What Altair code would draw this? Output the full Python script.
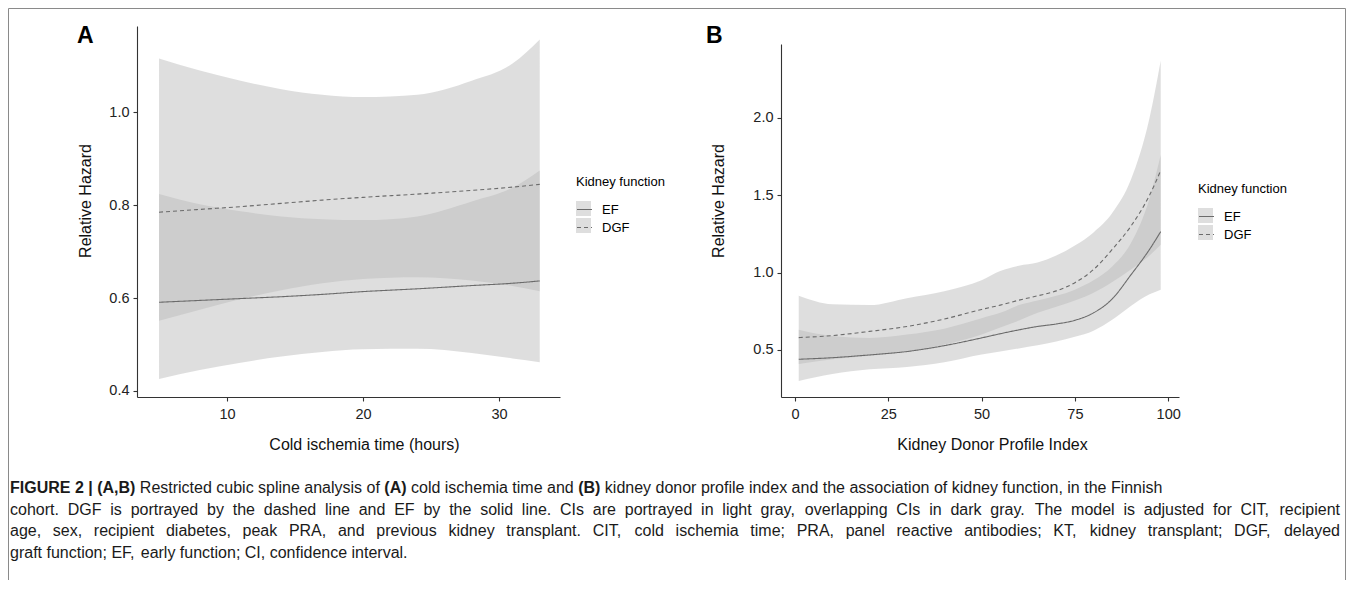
import altair as alt
import pandas as pd

FONT = "Liberation Sans"

# ---------------- Panel A: cold ischemia time ----------------
A_X = [5, 8, 11, 14, 17, 20, 24, 28, 31, 33]
A_EF_FIT = [0.591, 0.595, 0.599, 0.603, 0.608, 0.614, 0.620, 0.627, 0.632, 0.637]
A_EF_LO = [0.426, 0.445, 0.461, 0.474, 0.484, 0.490, 0.491, 0.482, 0.470, 0.462]
A_EF_HI = [0.824, 0.802, 0.787, 0.776, 0.770, 0.768, 0.776, 0.808, 0.838, 0.875]
A_DGF_FIT = [0.785, 0.791, 0.797, 0.804, 0.811, 0.817, 0.824, 0.832, 0.839, 0.845]
A_DGF_LO = [0.551, 0.575, 0.598, 0.617, 0.632, 0.641, 0.645, 0.638, 0.626, 0.615]
A_DGF_HI = [1.116, 1.090, 1.068, 1.050, 1.038, 1.033, 1.038, 1.068, 1.105, 1.157]
A_XTICKS = [10, 20, 30]
A_YTICKS = [0.4, 0.6, 0.8, 1.0]

# ---------------- Panel B: KDPI ----------------
B_X = [1, 10, 20, 30, 40, 50, 55, 60, 65, 70, 75, 80, 85, 90, 95, 98]
B_EF_FIT = [0.44, 0.45, 0.468, 0.49, 0.528, 0.578, 0.605, 0.63, 0.652, 0.668, 0.692, 0.74, 0.83, 0.985, 1.15, 1.265]
B_EF_LO = [0.30, 0.345, 0.375, 0.39, 0.42, 0.47, 0.49, 0.51, 0.53, 0.555, 0.585, 0.625, 0.695, 0.785, 0.86, 0.89]
B_EF_HI = [0.63, 0.59, 0.578, 0.60, 0.638, 0.705, 0.74, 0.79, 0.82, 0.85, 0.89, 0.95, 1.04, 1.19, 1.48, 1.76]
B_DGF_FIT = [0.58, 0.593, 0.62, 0.652, 0.70, 0.762, 0.79, 0.822, 0.85, 0.882, 0.935, 1.02, 1.15, 1.30, 1.50, 1.66]
B_DGF_LO = [0.41, 0.44, 0.462, 0.49, 0.535, 0.60, 0.645, 0.69, 0.74, 0.78, 0.82, 0.87, 0.94, 1.02, 1.11, 1.18]
B_DGF_HI = [0.85, 0.795, 0.79, 0.835, 0.88, 0.95, 1.01, 1.045, 1.065, 1.11, 1.175, 1.26, 1.385, 1.60, 2.0, 2.37]
B_XTICKS = [0, 25, 50, 75, 100]
B_YTICKS = [0.5, 1.0, 1.5, 2.0]

GROUPS = ["EF", "DGF"]
LEGEND_TITLE = "Kidney function"
Y_TITLE = "Relative Hazard"

CAPTION_LINES = [
    [("FIGURE 2 | (A,B)", True), ("Restricted cubic spline analysis of", False), ("(A)", True),
     ("cold ischemia time and", False), ("(B)", True),
     ("kidney donor profile index and the association of kidney function, in the Finnish", False)],
    [("cohort. DGF is portrayed by the dashed line and EF by the solid line. CIs are portrayed in light gray, "
      "overlapping CIs in dark gray. The model is adjusted for CIT, recipient", False)],
    [("age, sex, recipient diabetes, peak PRA, and previous kidney transplant. CIT, cold ischemia time; PRA, "
      "panel reactive antibodies; KT, kidney transplant; DGF, delayed", False)],
    [("graft function; EF, early function; CI, confidence interval.", False)],
]
JUSTIFY = [False, True, True, False]

# ---------------- styling ----------------
FILL = "#bbbbbb"
LINE_COLOR = "#6b6b6b"
CAP_SIZE = 16
CAP_WIDTH = 1330

REG_W = dict(zip("abcdefghijklmnopqrstuvwxyz",
                 [556, 556, 500, 556, 556, 278, 556, 556, 222, 222, 500, 222, 833, 556, 556, 556, 556, 333,
                  500, 278, 556, 500, 722, 500, 500, 500]))
REG_W.update(dict(zip("ABCDEFGHIJKLMNOPQRSTUVWXYZ",
                      [667, 667, 722, 722, 667, 611, 778, 722, 278, 500, 667, 556, 833, 722, 778, 667, 778,
                       722, 667, 611, 722, 667, 944, 667, 667, 611])))
REG_W.update({" ": 278, ",": 278, ".": 278, ";": 278, ":": 278, "(": 333, ")": 333, "|": 260, "-": 333})
REG_W.update({d: 556 for d in "0123456789"})
BOLD_W = {"F": 611, "I": 278, "G": 778, "U": 722, "R": 722, "E": 667, "A": 722, "B": 722,
          "(": 333, ")": 333, ",": 278, "|": 280, " ": 278}
BOLD_W.update({d: 556 for d in "0123456789"})


def tw(s, bold):
    table = BOLD_W if bold else REG_W
    return sum(table.get(c, 556) for c in s) * CAP_SIZE / 1000.0


def long_table(xs, ef_fit, ef_lo, ef_hi, dgf_fit, dgf_lo, dgf_hi):
    rows = []
    for grp, fit, lo, hi in (("EF", ef_fit, ef_lo, ef_hi), ("DGF", dgf_fit, dgf_lo, dgf_hi)):
        for x, f, l, h in zip(xs, fit, lo, hi):
            rows.append({"x": x, "fit": f, "lo": l, "hi": h, "fn": grp, "ci": grp + " CI"})
    return pd.DataFrame(rows)


def legend(**kw):
    base = dict(orient="none", direction="vertical", title=LEGEND_TITLE, titleFontSize=13,
                titleFontWeight="normal", titleFont=FONT, titlePadding=12, labelFontSize=13,
                labelFont=FONT, labelOffset=9, symbolSize=225, rowPadding=2, titleLimit=300)
    base.update(kw)
    return alt.Legend(**base)


def panel(df, letter, letter_dx, x_dom, x_ticks, x_title, x_title_x, y_dom, y_range, y_ticks,
          y_title_x, legend_x, legend_y, width):
    xsc = alt.Scale(domain=x_dom, nice=False, zero=False)
    ysc = alt.Scale(domain=y_dom, range=y_range, nice=False, zero=False)
    x_axis = alt.Axis(values=x_ticks, title=x_title, titleX=x_title_x, titleY=39,
                      titleBaseline="top", format="d")
    y_axis = alt.Axis(values=y_ticks, title=Y_TITLE, titleX=y_title_x, titleY=174.5,
                      titleBaseline="middle", format=".1f")
    x_enc = alt.X("x:Q", scale=xsc, axis=x_axis)
    # grey key squares (the ribbon part of the legend keys); text comes from the line legend on top
    bands = alt.Chart(df).mark_area(opacity=0.48, interpolate="monotone").encode(
        x=x_enc,
        y=alt.Y("lo:Q", scale=ysc, axis=y_axis),
        y2="hi:Q",
        fill=alt.Fill("ci:N", scale=alt.Scale(domain=[g + " CI" for g in GROUPS], range=[FILL, FILL]),
                      legend=legend(legendX=legend_x, legendY=legend_y, symbolType="square",
                                    symbolStrokeWidth=0, symbolOpacity=0.48, title=" ",
                                    labelExpr="''")),
    )
    lines = alt.Chart(df).mark_line(color=LINE_COLOR, strokeWidth=1.1, interpolate="monotone").encode(
        x=x_enc,
        y=alt.Y("fit:Q", scale=ysc, axis=y_axis),
        strokeDash=alt.StrokeDash("fn:N", scale=alt.Scale(domain=GROUPS, range=[[1, 0], [4, 3]]),
                                  legend=legend(legendX=legend_x, legendY=legend_y, symbolType="stroke",
                                                symbolStrokeColor=LINE_COLOR, symbolStrokeWidth=1.1,
                                                titleColor="black", labelColor="black")),
    )
    tag = alt.Chart(pd.DataFrame({"t": [letter]})).mark_text(
        font=FONT, fontSize=23, fontWeight="bold", align="left", baseline="alphabetic", color="black"
    ).encode(text="t:N", x=alt.value(letter_dx), y=alt.value(17))
    return alt.layer(bands, lines, tag).properties(width=width, height=371)


dfA = long_table(A_X, A_EF_FIT, A_EF_LO, A_EF_HI, A_DGF_FIT, A_DGF_LO, A_DGF_HI)
dfB = long_table(B_X, B_EF_FIT, B_EF_LO, B_EF_HI, B_DGF_FIT, B_DGF_LO, B_DGF_HI)

panelA = panel(dfA, "A", -60, [3.38, 34.49], A_XTICKS, "Cold ischemia time (hours)", 227,
               [0.387, 1.186], [371, 0], A_YTICKS, -52, 439, 150, 423)
panelB = panel(dfB, "B", -75, [-3.75, 102.9], B_XTICKS, "Kidney Donor Profile Index", 211,
               [0.196, 2.478], [371, 18], B_YTICKS, -63, 417, 157, 398)

# ---------------- caption (word layout computed from font metrics) ----------------
rows = []
for i, line in enumerate(CAPTION_LINES):
    words = [(w, b) for seg, b in line for w in seg.split(" ")]
    widths = [tw(w, b) for w, b in words]
    gap = (CAP_WIDTH - sum(widths)) / (len(words) - 1) if JUSTIFY[i] else tw(" ", False)
    x = -127.0
    for (w, b), wd in zip(words, widths):
        rows.append({"word": w, "bold": b, "px": x, "py": 31 + 21.5 * i})
        x += wd + gap
cap_df = pd.DataFrame(rows)

cap_base = alt.Chart(cap_df)
cap_enc = dict(x=alt.X("px:Q", scale=None), y=alt.Y("py:Q", scale=None), text="word:N")
cap_norm = cap_base.transform_filter("!datum.bold").mark_text(
    align="left", baseline="middle", font=FONT, fontSize=CAP_SIZE, color="#1a1a1a").encode(**cap_enc)
cap_bold = cap_base.transform_filter("datum.bold").mark_text(
    align="left", baseline="middle", font=FONT, fontSize=CAP_SIZE, fontWeight="bold",
    color="#1a1a1a").encode(**cap_enc)

frame_df = pd.DataFrame({"k": [0]})
frame_top = alt.Chart(frame_df).mark_rule(color="#8a8a8a", strokeWidth=1).encode(
    x=alt.value(-128.5), x2=alt.value(1208.5), y=alt.value(-448.5))
frame_left = alt.Chart(frame_df).mark_rule(color="#8a8a8a", strokeWidth=1).encode(
    x=alt.value(-128.5), y=alt.value(-448.5), y2=alt.value(123))
frame_right = alt.Chart(frame_df).mark_rule(color="#8a8a8a", strokeWidth=1).encode(
    x=alt.value(1208.5), y=alt.value(-448.5), y2=alt.value(123))

caption = alt.layer(cap_norm, cap_bold, frame_top, frame_left, frame_right).properties(width=1000, height=100)

top = alt.hconcat(panelA, panelB, spacing=221, bounds="flush").resolve_scale(
    fill="independent", strokeDash="independent"
).resolve_legend(fill="independent", strokeDash="independent")
# nested concat has no own height under flush bounds, so the spacing carries the row height (371 + 60)
chart = alt.vconcat(top, caption, spacing=431, bounds="flush").properties(padding=0)

chart = chart.configure(font=FONT).configure_view(strokeWidth=0).configure_axis(
    domainColor="#333333", tickColor="#333333", domainWidth=1.1, tickWidth=1.1, tickSize=4,
    labelFontSize=14.5, labelColor="#222222", labelFont=FONT, titleFont=FONT, titleFontSize=16,
    titleFontWeight="normal", titleColor="#111111", grid=False
).configure_axisX(labelPadding=6).configure_axisY(labelPadding=4)

chart.save("out.html", embed_options={"renderer": "svg", "actions": False})
